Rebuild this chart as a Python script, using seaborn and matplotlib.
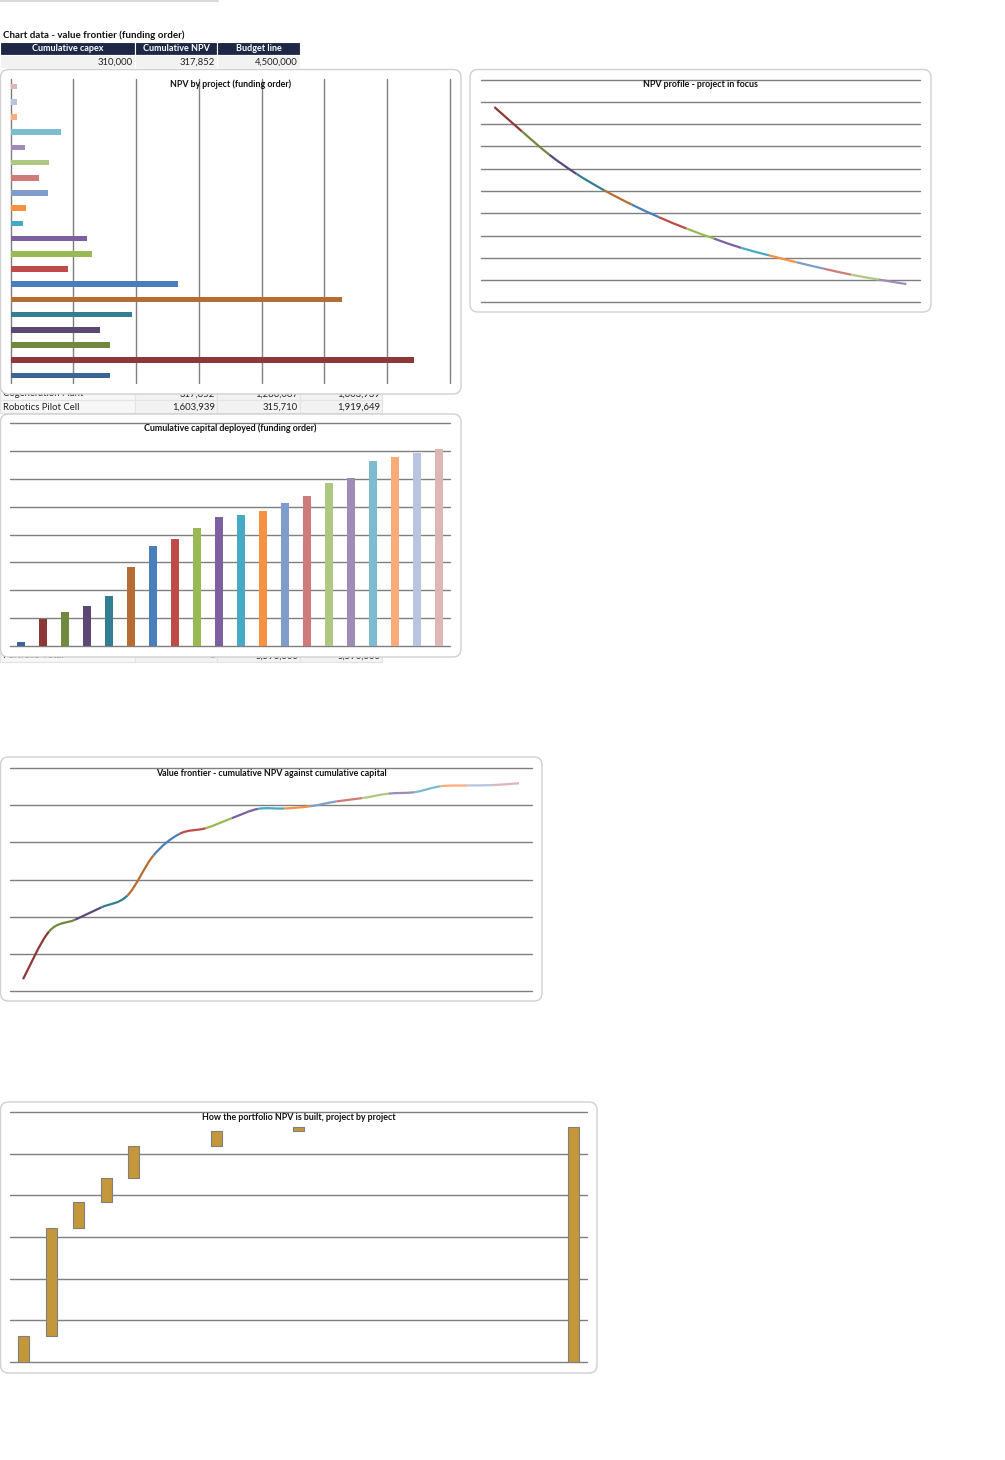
import numpy as np
import seaborn as sns
import matplotlib.pyplot as plt
from matplotlib.path import Path
from matplotlib.patches import PathPatch, FancyBboxPatch, Rectangle

# ---- data (funding order) ----
projects = [f"Project {i}" for i in range(1, 21)]
projects[1] = "Cogeneration Plant"
projects[2] = "Robotics Pilot Cell"

npv = [317852, 1286087, 315710, 286000, 388000, 1056000, 532000, 183000, 260000, 242000,
       40000, 49000, 120000, 90000, 122000, 44000, 160000, 21000, 21000, 21000]
cum_capex = [310000, 1960000, 2440000, 2900000, 3580000, 5700000, 7160000, 7680000, 8460000, 9240000,
             9400000, 9660000, 10260000, 10760000, 11680000, 12060000, 13280000, 13560000, 13860000, 14140000]
cum_npv = [317852, 1603939, 1919649, 2250000, 2570000, 3650000, 4230000, 4380000, 4650000, 4900000,
           4910000, 4970000, 5100000, 5190000, 5310000, 5350000, 5510000, 5530000, 5540000, 5590000]
funded = [1, 1, 1, 1, 1, 0, 0, 1, 0, 0, 1, 0, 0, 0, 0, 0, 0, 0, 0, 0]

disc_rates = [f"{r}%" for r in range(16)]
npv_profile = [1754000, 1536000, 1326000, 1152000, 1006000, 878000, 764000, 662000,
               572000, 488000, 422000, 360000, 302000, 248000, 204000, 164000]

budget = 4500000

colors = ["#3C6496", "#8C3836", "#71893F", "#5C4776", "#357D91", "#B66D31",
          "#4A7EBB", "#BE4B48", "#98B954", "#7D60A0", "#46AAC5", "#F69240",
          "#7F9DCB", "#CF7B79", "#AEC882", "#9E8BB7", "#7DBBD0", "#F9AB7A",
          "#B7C5E0", "#DDB6B5"]

GRID = "#7F7F7F"
W, H = 1005, 1460

sns.set_theme(style="white")
plt.rcParams["font.family"] = ["Lato", "DejaVu Sans"]

fig = plt.figure(figsize=(W / 100, H / 100), dpi=100)

# background canvas in pixel coordinates (tables + chart frames)
cv = fig.add_axes([0, 0, 1, 1], zorder=0)
cv.set_xlim(0, W)
cv.set_ylim(H, 0)
cv.axis("off")


def cell(x0, x1, y0, y1, fc, ec="#D9D9D9", z=1):
    cv.add_patch(Rectangle((x0, y0), x1 - x0, y1 - y0, facecolor=fc, edgecolor=ec, lw=0.8, zorder=z))


def frame(x0, y0, x1, y1):
    cv.add_patch(FancyBboxPatch((x0, y0), x1 - x0, y1 - y0,
                                boxstyle="round,pad=0,rounding_size=8",
                                facecolor="white", edgecolor="#D0D0D0", lw=1.0, zorder=5))


cv.plot([0, 218], [1, 1], color="#DADADA", lw=1.5)
cv.text(3, 35, "Chart data - value frontier (funding order)", fontsize=7.0,
        fontweight="bold", va="center", ha="left", color="#111111")

cols = [(0, 135), (135, 217), (217, 300), (300, 382)]
heads = ["Cumulative capex", "Cumulative NPV", "Budget line"]
for (a, b), t in zip(cols[:3], heads):
    cell(a, b, 42, 55, "#1C2846", ec="white")
    cv.text((a + b) / 2, 48.8, t, fontsize=6.5, fontweight="bold", color="white", ha="center", va="center")
for (a, b), v in zip(cols[:3], [cum_capex[0], cum_npv[0], budget]):
    cell(a, b, 55, 68, "#F2F2F2", ec="white")
    cv.text(b - 2, 62, f"{v:,}", fontsize=6.8, ha="right", va="center", color="#222222")


def data_row(y0, name, vals):
    cell(0, 135, y0, y0 + 13, "#F7F7F7", ec="#E3E3E3")
    for (a, b) in cols[1:]:
        cell(a, b, y0, y0 + 13, "#F2F2F2", ec="#E3E3E3")
    cv.text(3, y0 + 7, name, fontsize=6.8, ha="left", va="center", color="#222222", zorder=2)
    for (a, b), v in zip(cols[1:], vals):
        cv.text(b - 2, y0 + 7, v, fontsize=6.8, ha="right", va="center", color="#222222", zorder=2)


data_row(387, projects[1], [f"{npv[0]:,}", f"{npv[1]:,}", f"{cum_npv[1]:,}"])
data_row(400, projects[2], [f"{cum_npv[1]:,}", f"{npv[2]:,}", f"{cum_npv[2]:,}"])
data_row(649, "Portfolio Total", ["0", f"{cum_npv[-1]:,}", f"{cum_npv[-1]:,}"])

frame(0.5, 69.5, 461, 394)
frame(0.5, 414, 461, 657)
frame(470, 69.5, 931, 312)
frame(0.5, 757, 542, 1001)
frame(0.5, 1102, 597, 1373)


def px_axes(x0, y0, x1, y1):
    ax = fig.add_axes([x0 / W, 1 - y1 / H, (x1 - x0) / W, (y1 - y0) / H], zorder=2)
    ax.patch.set_alpha(0)
    return ax


def excel_axis(ax, ticks, axis="y"):
    sns.despine(ax=ax, left=True, bottom=True)
    if axis == "y":
        ax.set_yticks(ticks)
        ax.set_ylim(ticks[0], ticks[-1])
    else:
        ax.set_xticks(ticks)
        ax.set_xlim(ticks[0], ticks[-1])
    ax.grid(False)
    ax.grid(axis=axis, color=GRID, lw=1.0)
    for gl in ax.get_xgridlines() + ax.get_ygridlines():
        gl.set_clip_on(False)
    ax.tick_params(length=0, labelbottom=False, labelleft=False)
    ax.set_axisbelow(True)
    ax.set(xlabel="", ylabel="")


def chart_title(ax, text):
    ax.text(0.5, 0.997, text, transform=ax.transAxes, ha="center", va="top",
            fontsize=6.4, fontweight="bold", color="#111111", clip_on=False)


def smooth_line(ax, xs, ys, cols_, lw=1.6):
    pts = np.column_stack([xs, ys]).astype(float)
    n = len(pts)
    for i in range(n - 1):
        p0, p1 = pts[max(i - 1, 0)], pts[i]
        p2, p3 = pts[i + 1], pts[min(i + 2, n - 1)]
        c1 = p1 + (p2 - p0) / 6
        c2 = p2 - (p3 - p1) / 6
        path = Path([p1, c1, c2, p2], [Path.MOVETO, Path.CURVE4, Path.CURVE4, Path.CURVE4])
        ax.add_patch(PathPatch(path, fill=False, edgecolor=cols_[i + 1], lw=lw, capstyle="butt"))


# 1. NPV by project (horizontal bars)
ax1 = px_axes(10.7, 79, 450, 383)
sns.barplot(x=npv, y=projects, hue=projects, palette=colors, legend=False, saturation=1,
            orient="h", width=0.36, linewidth=0, ax=ax1)
excel_axis(ax1, np.arange(0, 1400001, 200000), axis="x")
ax1.set_ylim(-0.5, 19.5)
chart_title(ax1, "NPV by project (funding order)")

# 2. Cumulative capital deployed
ax2 = px_axes(10, 423, 450, 646)
sns.barplot(x=projects, y=cum_capex, hue=projects, palette=colors, legend=False, saturation=1,
            width=0.36, linewidth=0, ax=ax2)
excel_axis(ax2, np.arange(0, 16000001, 2000000))
ax2.set_xlim(-0.5, 19.5)
chart_title(ax2, "Cumulative capital deployed (funding order)")

# 3. NPV profile
ax3 = px_axes(480.7, 79.7, 920, 302.3)
excel_axis(ax3, np.arange(0, 2000001, 200000))
ax3.set_xlim(-0.5, len(disc_rates) - 0.5)
smooth_line(ax3, np.arange(len(disc_rates)), npv_profile, colors)
chart_title(ax3, "NPV profile - project in focus")

# 4. Value frontier
ax4 = px_axes(10, 768, 532, 991)
excel_axis(ax4, np.arange(0, 6000001, 1000000))
ax4.set_xlim(-0.5, 19.5)
smooth_line(ax4, np.arange(len(cum_npv)), cum_npv, colors)
chart_title(ax4, "Value frontier - cumulative NPV against cumulative capital")

# 5. Waterfall of funded projects
ax5 = px_axes(10, 1112, 587, 1362)
excel_axis(ax5, np.arange(0, 3000001, 500000))
ax5.set_xlim(-0.5, 20.5)
step = np.array(npv) * np.array(funded)
tops = np.cumsum(step)
bottoms = tops - step
idx = [i for i in range(20) if funded[i]]
ax5.bar(idx, step[idx], bottom=bottoms[idx], width=0.4, color="#C4973A",
        edgecolor="#7F7F7F", linewidth=0.8)
ax5.bar([20], [tops[-1]], width=0.4, color="#C4973A", edgecolor="#7F7F7F", linewidth=0.8)
chart_title(ax5, "How the portfolio NPV is built, project by project")

fig.savefig("out.png", dpi=100)
